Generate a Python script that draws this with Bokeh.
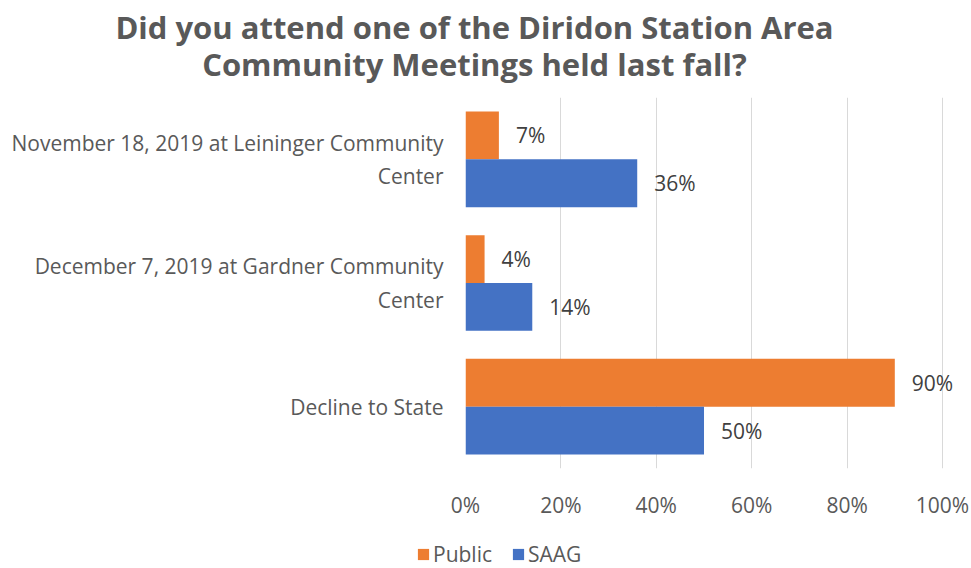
from bokeh.plotting import figure
from bokeh.models import ColumnDataSource, FactorRange, Range1d, Label, Legend, LegendItem, LabelSet, FixedTicker, CustomJSTickFormatter
from bokeh.core.properties import value
from bokeh.transform import dodge
from bokeh.embed import file_html
from bokeh.resources import INLINE

categories = ["November 18, 2019 at Leininger Community\nCenter",
              "December 7, 2019 at Gardner Community\nCenter",
              "Decline to State"]
public = [7, 4, 90]
saag = [36, 14, 50]
x_ticks = [0, 20, 40, 60, 80, 100]
series_names = ["Public", "SAAG"]
colors = ["#ED7D31", "#4472C4"]
title_lines = ["Did you attend one of the Diridon Station Area",
               "Community Meetings held last fall?"]

FONT = "Open Sans"
GRAY = "#595959"
W = 970


def bare(fig):
    fig.outline_line_color = None
    fig.grid.visible = False
    fig.title.text = ""
    fig.title.standoff = 0
    return fig


# ---- title strip ----
t = bare(figure(width=W, height=97, output_backend="svg", toolbar_location=None,
                min_border=0, x_axis_type=None, y_axis_type=None,
                x_range=Range1d(0, 1), y_range=Range1d(0, 1)))
for line, ypos in zip(title_lines, (71, 34)):
    t.add_layout(Label(x=474, y=ypos, x_units="screen", y_units="screen", text=line,
                       text_align="center", text_baseline="middle", text_font=FONT,
                       text_font_size="31px", text_font_style="bold", text_color=GRAY))

# ---- main chart ----
src = ColumnDataSource(dict(
    cat=categories, public=public, saag=saag,
    public_lbl=[f"{v}%" for v in public], saag_lbl=[f"{v}%" for v in saag],
))

p = figure(width=W, height=440, output_backend="svg", toolbar_location=None,
           y_range=FactorRange(factors=categories[::-1]), x_range=Range1d(0, 104.82),
           min_border_left=465, min_border_right=5, min_border_top=0, min_border_bottom=69)
p.outline_line_color = None
p.title.text = ""
p.title.standoff = 0

bh = 0.387
r1 = p.hbar(y=dodge("cat", bh / 2, range=p.y_range), right="public", left=0, height=bh,
            source=src, color=colors[0], line_color=None)
r2 = p.hbar(y=dodge("cat", -bh / 2, range=p.y_range), right="saag", left=0, height=bh,
            source=src, color=colors[1], line_color=None)

for col, off in (("public", bh / 2), ("saag", -bh / 2)):
    p.add_layout(LabelSet(x=col, y=dodge("cat", off, range=p.y_range), text=col + "_lbl",
                          source=src, x_offset=17, text_baseline="middle",
                          text_font=value(FONT), text_font_size="21px", text_color="#404040"))

for ax in (p.xaxis, p.yaxis):
    ax.axis_line_color = None
    ax.major_tick_line_color = None
    ax.minor_tick_line_color = None
    ax.major_tick_out = 0
    ax.major_tick_in = 0
    ax.major_label_text_font = FONT
    ax.major_label_text_font_size = "21px"
    ax.major_label_text_color = GRAY
p.xaxis.ticker = FixedTicker(ticks=x_ticks)
p.xaxis.formatter = CustomJSTickFormatter(code="return tick + '%';")
p.xaxis.major_label_standoff = 22
p.yaxis.major_label_standoff = 22

p.xgrid.grid_line_color = "#D9D9D9"
p.xgrid.grid_line_width = 1
p.ygrid.grid_line_color = None

# ---- legend strip ----
lg = bare(figure(width=W, height=31, output_backend="svg", toolbar_location=None,
                 min_border=0, x_axis_type=None, y_axis_type=None,
                 x_range=Range1d(0, 1), y_range=Range1d(0, 1)))
# zero-width proxy bars: they draw nothing, but give the legend a glyph to draw
proxy = ColumnDataSource(dict(y=[0], right=[0]))
d1 = lg.hbar(y="y", right="right", left=0, height=0, source=proxy,
             fill_color=colors[0], line_color=None)
d2 = lg.hbar(y="y", right="right", left=0, height=0, source=proxy,
             fill_color=colors[1], line_color=None)
legend = Legend(items=[LegendItem(label=series_names[0], renderers=[d1]),
                       LegendItem(label=series_names[1], renderers=[d2])],
                orientation="horizontal", location=(416, 0),
                label_text_font=FONT, label_text_font_size="21px", label_text_color=GRAY,
                glyph_width=14, glyph_height=14, border_line_color=None,
                background_fill_alpha=0, spacing=19, label_standoff=3, padding=0, margin=0)
lg.add_layout(legend, "center")

open("out.html", "w").write(file_html([t, p, lg], INLINE))
